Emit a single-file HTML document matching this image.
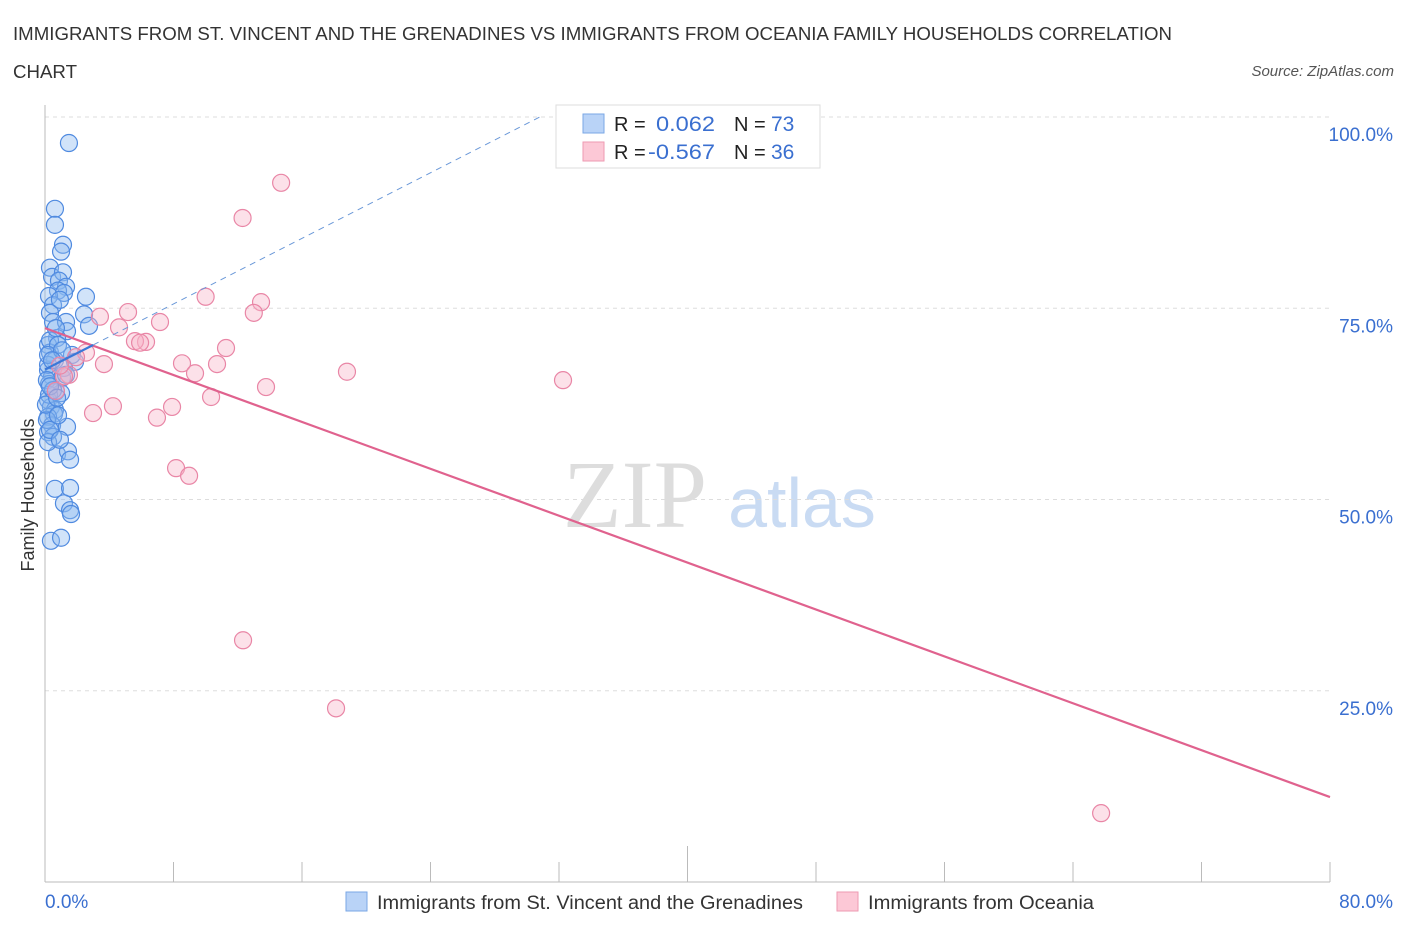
<!DOCTYPE html>
<html><head><meta charset="utf-8"><style>
body{margin:0;background:#fff;font-family:"Liberation Sans",sans-serif;}
svg text{font-family:"Liberation Sans",sans-serif;}
</style></head><body>
<svg id="chart" width="1406" height="930" xmlns="http://www.w3.org/2000/svg">
<text x="13" y="40" font-size="18" fill="#333" textLength="1159" lengthAdjust="spacingAndGlyphs">IMMIGRANTS FROM ST. VINCENT AND THE GRENADINES VS IMMIGRANTS FROM OCEANIA FAMILY HOUSEHOLDS CORRELATION</text>
<text x="13" y="78" font-size="18" fill="#333" textLength="64" lengthAdjust="spacingAndGlyphs">CHART</text>
<text x="1394" y="76" font-size="15" fill="#555" text-anchor="end" font-style="italic">Source: ZipAtlas.com</text>
<g>
<text x="635" y="527" font-size="96" fill="#ddd" style="font-family:'Liberation Serif',serif" text-anchor="middle">ZIP</text>
<text x="802" y="527" font-size="70" fill="#c9dbf3" text-anchor="middle">atlas</text>
</g>
<g id="grid"></g>
<g id="axes"></g>
<g id="marks"></g>
<text transform="translate(34,495) rotate(-90)" font-size="18" fill="#333" text-anchor="middle">Family Households</text>
<g>
<rect x="556" y="105" width="264" height="63" fill="#fff" stroke="#ddd"/>
<rect x="583" y="114" width="21" height="19" fill="#b9d3f7" stroke="#7aa7e6"/>
<rect x="583" y="142" width="21" height="19" fill="#fcc8d6" stroke="#ee9ab2"/>
<text x="614" y="131" font-size="20" fill="#222">R = </text><text x="656" y="131" font-size="21" fill="#3a6fd0" textLength="59" lengthAdjust="spacingAndGlyphs">0.062</text>
<text x="734" y="131" font-size="20" fill="#222">N = </text><text x="771" y="131" font-size="21" fill="#3a6fd0">73</text>
<text x="614" y="159" font-size="20" fill="#222">R = </text><text x="648" y="159" font-size="21" fill="#3a6fd0" textLength="67" lengthAdjust="spacingAndGlyphs">-0.567</text>
<text x="734" y="159" font-size="20" fill="#222">N = </text><text x="771" y="159" font-size="21" fill="#3a6fd0">36</text>
</g>
<g>
<rect x="346" y="892" width="21" height="19" fill="#b9d3f7" stroke="#7aa7e6"/>
<text x="377" y="909" font-size="19" fill="#333" textLength="426" lengthAdjust="spacingAndGlyphs">Immigrants from St. Vincent and the Grenadines</text>
<rect x="837" y="892" width="21" height="19" fill="#fcc8d6" stroke="#ee9ab2"/>
<text x="868" y="909" font-size="19" fill="#333" textLength="226" lengthAdjust="spacingAndGlyphs">Immigrants from Oceania</text>
</g>
</svg>
<script>
const blueX=[1.49,0.62,0.62,1.12,1.0,0.31,0.44,1.12,0.87,1.31,0.81,1.18,2.55,0.25,0.5,2.43,2.74,0.31,0.5,1.31,1.37,0.75,0.19,0.31,0.62,1.68,1.87,0.19,0.44,1.06,0.25,0.68,1.0,0.19,0.37,0.62,0.56,0.19,0.44,1.37,0.19,0.5,0.75,1.43,1.56,0.19,0.62,1.56,1.18,1.56,1.62,0.37,1.0,0.19,0.31,0.68,0.93,0.12,0.25,0.81,1.18,0.5,0.12,0.31,0.93,0.06,0.81,0.19,1.31,0.31,0.75,1.06,0.44];
const blueY=[96.6,88.0,85.9,83.3,82.4,80.3,79.1,79.7,78.6,77.8,77.3,77.0,76.5,76.6,75.4,74.2,72.7,74.4,73.2,73.2,72.0,71.1,70.2,69.2,68.2,68.9,68.0,66.9,66.1,65.9,65.1,64.1,63.9,63.0,62.1,61.7,61.2,60.8,59.7,59.5,58.8,58.2,55.9,56.3,55.2,57.5,51.4,51.5,49.5,48.6,48.1,44.6,45.0,67.6,70.8,72.4,76.1,65.6,63.7,70.2,67.2,64.3,60.4,59.1,57.8,62.4,61.0,68.9,66.3,64.8,63.3,69.5,68.2];
const pinkX=[14.7,12.3,10.0,13.45,13.0,5.17,3.42,7.16,4.61,6.29,5.6,5.92,11.27,2.55,1.93,8.53,10.71,3.67,9.34,18.8,32.25,1.49,1.18,13.76,0.68,10.34,4.23,2.99,7.91,6.97,8.16,8.97,12.33,18.12,65.75,0.93];
const pinkY=[91.4,86.8,76.5,75.8,74.4,74.5,73.9,73.2,72.5,70.6,70.7,70.5,69.8,69.2,68.6,67.8,67.7,67.7,66.5,66.7,65.6,66.3,66.1,64.7,64.2,63.4,62.2,61.3,62.1,60.7,54.1,53.1,31.6,22.7,9.0,67.5];
const yTicks=[25,50,75,100];
const yTickLabels=["25.0%","50.0%","75.0%","100.0%"];
const xTicks=[0,8,16,24,32,40,48,56,64,72,80];
const blueTrend=[[0,67],[3,70.2],[30.8,100]];
const pinkTrend=[[0,72.4],[80,11.1]];
const NS="http://www.w3.org/2000/svg";
const X=v=>45+v*1285/80, Y=v=>882-v*7.65;
function mk(tag,attrs,parent){const e=document.createElementNS(NS,tag);for(const k in attrs)e.setAttribute(k,attrs[k]);parent.appendChild(e);return e;}
const grid=document.getElementById('grid'),axes=document.getElementById('axes'),marks=document.getElementById('marks');
yTicks.forEach((t,i)=>{
 const l=mk('line',{x1:45,x2:1330,y1:Y(t),y2:Y(t),stroke:'#ddd','stroke-dasharray':'4,4'},grid);
 
 
 const tx=mk('text',{x:1393,y:Y(t)+24,'font-size':19,fill:'#3a6fd0','text-anchor':'end'},axes);
 tx.textContent=yTickLabels[i];
 
 
});
const ax=mk('line',{x1:45,x2:1330,y1:882,y2:882,stroke:'#bbb'},axes);


const ay=mk('line',{x1:45,x2:45,y1:105,y2:882,stroke:'#bbb'},axes);


xTicks.forEach(t=>{
 const l=mk('line',{x1:X(t),x2:X(t),y1:t===40?846:862,y2:882,stroke:'#bbb'},axes);
 
 
});
const xl0=mk('text',{x:45,y:908,'font-size':19,fill:'#3a6fd0'},axes);xl0.textContent='0.0%';


const xl1=mk('text',{x:1393,y:908,'font-size':19,fill:'#3a6fd0','text-anchor':'end'},axes);xl1.textContent='80.0%';


blueX.forEach((v,i)=>{
 const c=mk('circle',{cx:X(v),cy:Y(blueY[i]),r:8.5,fill:'rgba(140,185,240,0.4)',stroke:'#4f8ae0','stroke-width':1.2},marks);
 
 
});
pinkX.forEach((v,i)=>{
 const c=mk('circle',{cx:X(v),cy:Y(pinkY[i]),r:8.5,fill:'rgba(248,180,200,0.4)',stroke:'#e986a6','stroke-width':1.2},marks);
 
 
});
const pl=mk('line',{x1:X(pinkTrend[0][0]),y1:Y(pinkTrend[0][1]),x2:X(pinkTrend[1][0]),y2:Y(pinkTrend[1][1]),stroke:'#e0628e','stroke-width':2.2},marks);


const bs=mk('line',{x1:X(blueTrend[0][0]),y1:Y(blueTrend[0][1]),x2:X(blueTrend[1][0]),y2:Y(blueTrend[1][1]),stroke:'#3a78d8','stroke-width':2.2},marks);


const bd=mk('line',{x1:X(blueTrend[1][0]),y1:Y(blueTrend[1][1]),x2:X(blueTrend[2][0]),y2:Y(blueTrend[2][1]),stroke:'#6a98d8','stroke-width':1,'stroke-dasharray':'6,5'},marks);


</script>
</body></html>
